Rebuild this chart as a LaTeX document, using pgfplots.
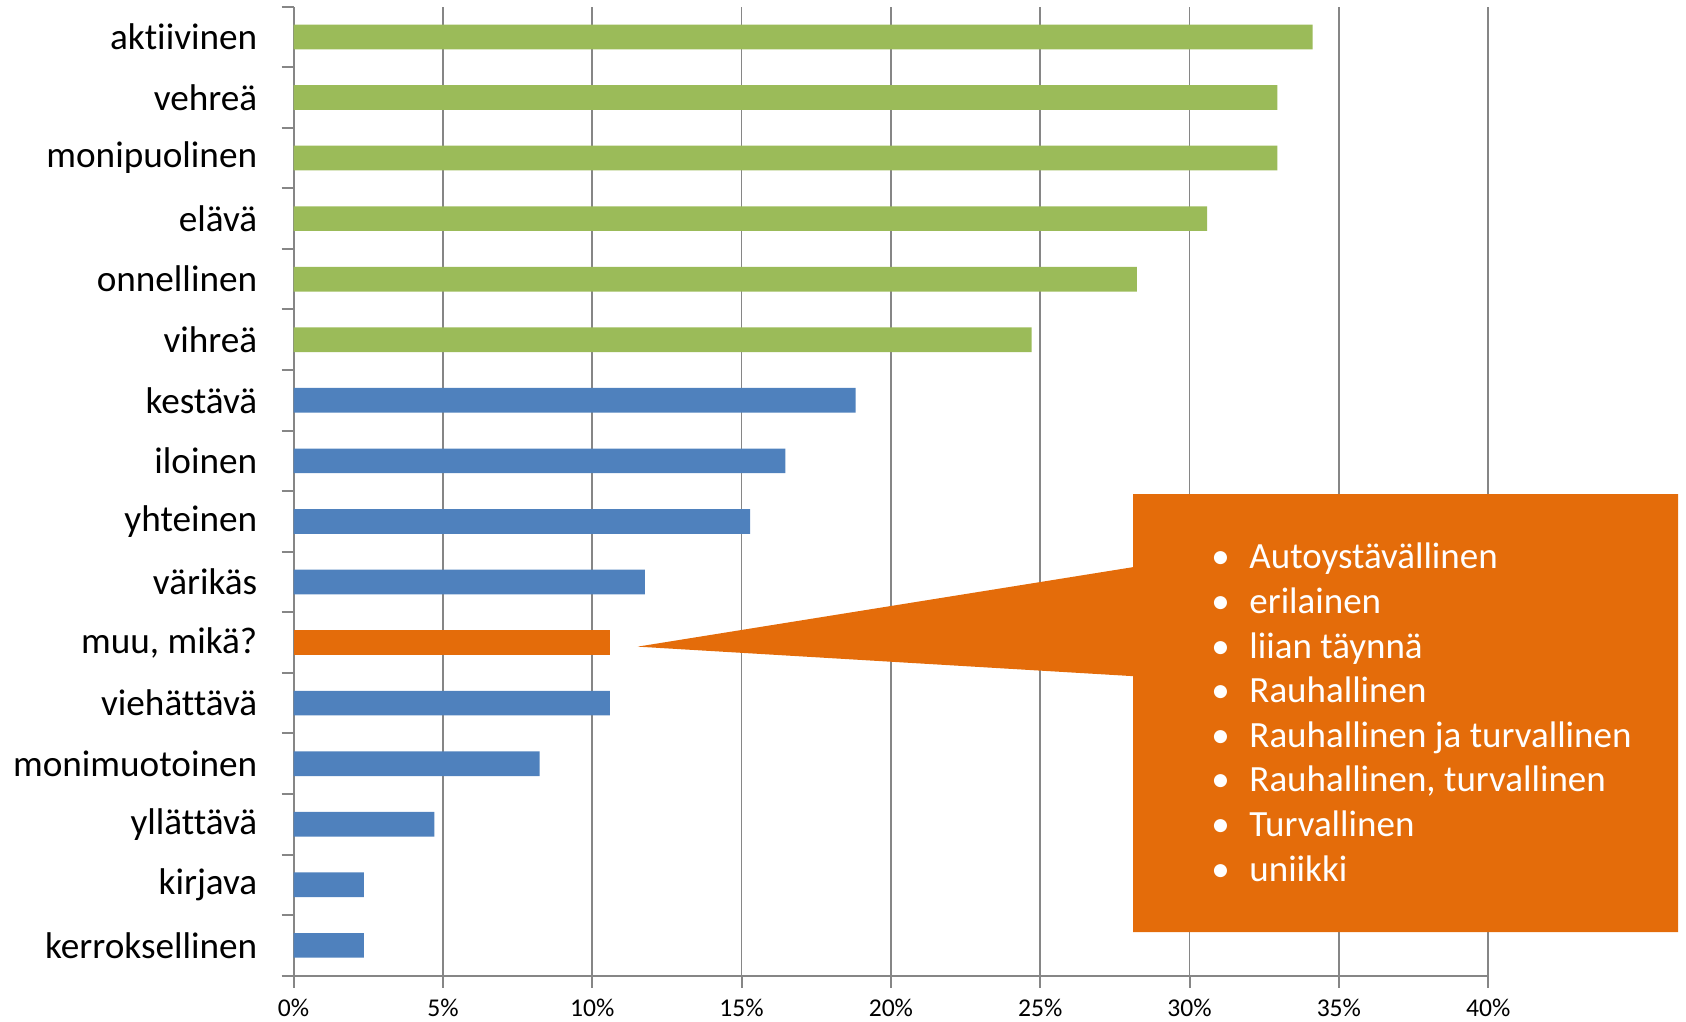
\documentclass[border=0pt]{standalone}
\usepackage{pgfplots}
\pgfplotsset{compat=1.18}
\usepackage{fontspec}
\setmainfont{Carlito}[Ligatures=NoCommon]
\definecolor{barGreen}{RGB}{155,187,89}
\definecolor{barBlue}{RGB}{79,129,189}
\definecolor{barOrange}{RGB}{228,108,10}
\definecolor{gridGray}{RGB}{134,134,134}
\begin{document}
\begin{tikzpicture}
\begin{scope}[shift={(0,510.5pt)},x=0.5pt,y=-0.5pt]
\useasboundingbox (0,0) rectangle (1686,1021);
\end{scope}
\begin{axis}[
  at={(146.8pt,23pt)}, anchor=south west,
  scale only axis, width=597.3pt, height=484.5pt,
  xmin=0, xmax=40, ymin=-0.5, ymax=15.5,
  xbar, bar width=12.35pt,
  axis x line*=bottom, axis y line*=left,
  axis line style={gridGray, line width=1pt},
  tick align=outside, major tick length=6pt,
  tick style={gridGray, line width=1pt},
  xmajorgrids, grid style={gridGray, line width=0.8pt},
  xtick={0,5,...,40},
  xticklabels={0\%,5\%,10\%,15\%,20\%,25\%,30\%,35\%,40\%},
  xticklabel style={font=\fontsize{12.8}{12.8}\selectfont, inner sep=0pt, anchor=north, yshift=-5.5pt},
  /pgf/number format/assume math mode=true,
  ytick={-0.5,0.5,...,15.5},
  yticklabels={},
  extra y ticks={0,1,...,15},
  extra y tick labels={kerroksellinen,kirjava,yllättävä,monimuotoinen,viehättävä,{muu, mikä?},värikäs,yhteinen,iloinen,kestävä,vihreä,onnellinen,elävä,monipuolinen,vehreä,aktiivinen},
  extra y tick style={major tick length=0pt, yticklabel style={font=\fontsize{18.6}{18.6}\selectfont, inner sep=0pt, anchor=east, xshift=-18pt}},
  clip=false,
]
\addplot[xbar, bar shift=0pt, fill=barGreen, draw=none] coordinates {(24.71,10) (28.24,11) (30.59,12) (32.94,13) (32.94,14) (34.12,15)};
\addplot[xbar, bar shift=0pt, fill=barBlue, draw=none] coordinates {(2.35,0) (2.35,1) (4.71,2) (8.24,3) (10.59,4) (11.76,6) (15.29,7) (16.47,8) (18.82,9)};
\addplot[xbar, bar shift=0pt, fill=barOrange, draw=none] coordinates {(10.59,5)};
\end{axis}
\begin{scope}[shift={(0,510.5pt)},x=0.5pt,y=-0.5pt]
\fill[barOrange] (1133,493.5) -- (1678,493.5) -- (1678,931.5) -- (1133,931.5) -- (1133,675.5) -- (637.6,646) -- (1133,566.5) -- cycle;
\foreach \t [count=\i from 0] in {Autoystävällinen,erilainen,liian täynnä,Rauhallinen,Rauhallinen ja turvallinen,{Rauhallinen, turvallinen},Turvallinen,uniikki}{
  \pgfmathsetmacro{\yy}{568.3+44.6*\i}
  \node[anchor=base west, inner sep=0pt, text=white, font=\fontsize{18.5}{22}\selectfont] at (1211,\yy) {•};
  \node[anchor=base west, inner sep=0pt, text=white, font=\fontsize{18.5}{22}\selectfont] at (1249,\yy) {\t};
}
\end{scope}
\end{tikzpicture}
\end{document}
